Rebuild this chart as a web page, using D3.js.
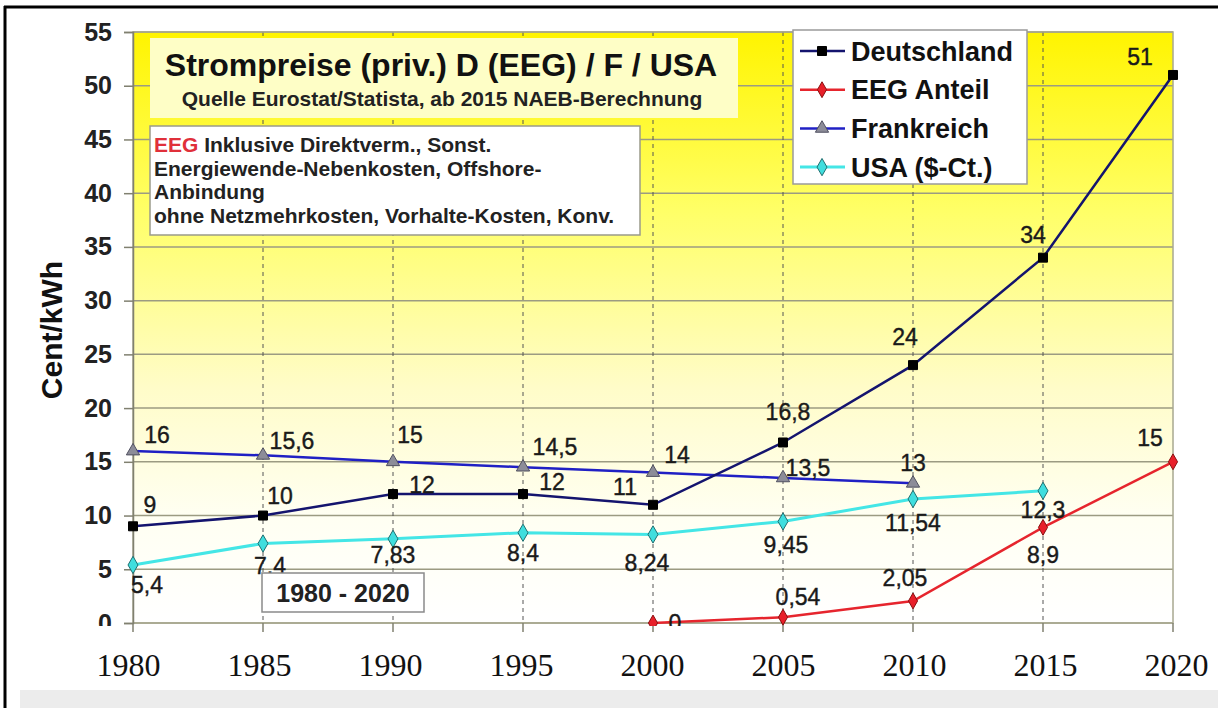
<!DOCTYPE html>
<html><head><meta charset="utf-8">
<script src="https://cdn.jsdelivr.net/npm/d3@7"></script>
<style>
html,body{margin:0;padding:0;background:#fff;}
svg{display:block;}
</style></head>
<body>
<svg id="chart" width="1218" height="708"></svg>
<script>
// ---- data ----
const years = [1980, 1985, 1990, 1995, 2000, 2005, 2010, 2015, 2020];
const yTicks = [0, 5, 10, 15, 20, 25, 30, 35, 40, 45, 50, 55];
const deutschlandYears = [1980, 1985, 1990, 1995, 2000, 2005, 2010, 2015, 2020];
const deutschland = [9, 10, 12, 12, 11, 16.8, 24, 34, 51];
const eegYears = [2000, 2005, 2010, 2015, 2020];
const eegAnteil = [0, 0.54, 2.05, 8.9, 15];
const frankreichYears = [1980, 1985, 1990, 1995, 2000, 2005, 2010];
const frankreich = [16, 15.6, 15, 14.5, 14, 13.5, 13];
const usaYears = [1980, 1985, 1990, 1995, 2000, 2005, 2010, 2015];
const usa = [5.4, 7.4, 7.83, 8.4, 8.24, 9.45, 11.54, 12.3];
const seriesNames = ["Deutschland", "EEG Anteil", "Frankreich", "USA ($-Ct.)"];
const titleText = "Strompreise (priv.) D (EEG) / F / USA";
const subtitleText = "Quelle Eurostat/Statista, ab 2015 NAEB-Berechnung";
const noteLines = [" Inklusive Direktverm., Sonst.", "Energiewende-Nebenkosten, Offshore-", "Anbindung", "ohne Netzmehrkosten, Vorhalte-Kosten, Konv."];
const periodText = "1980 - 2020";
const yTitle = "Cent/kWh";

const fmt = v => String(v).replace(".", ",");

// ---- layout / style ----
const svg = d3.select("#chart");
const W = 1218, H = 708;
const plot = {left: 133, right: 1173, top: 32, bottom: 623};
const x = d3.scaleLinear().domain([1980, 2020]).range([plot.left, plot.right]);
const y = d3.scaleLinear().domain([0, 55]).range([plot.bottom, plot.top]);
const xLab = d3.scaleLinear().domain([1980, 2020]).range([128, 1176]);
const SANS = "'Liberation Sans', Arial, sans-serif";

const styles = {
  "Deutschland": {line: "#14146e", width: 2.5, marker: "square", fill: "#000", stroke: "#000", size: 9},
  "EEG Anteil": {line: "#e6252d", width: 2.5, marker: "diamond", fill: "#e8202a", stroke: "#8a1010", size: 11},
  "Frankreich": {line: "#2020c4", width: 2.5, marker: "triangle", fill: "#8c8c98", stroke: "#505060", size: 13},
  "USA ($-Ct.)": {line: "#44e6e6", width: 3, marker: "diamond", fill: "#3fdede", stroke: "#1f6f70", size: 12}
};
// label offsets (dx, dy) relative to point
const labelOffsets = {
  "Deutschland": [[17,-22],[17,-20],[29,-9],[29,-12],[-28,-18],[5,-31],[-8,-28],[-10,-23],[-33,-18]],
  "EEG Anteil": [[22,0],[15,-20],[-8,-23],[0,27],[-23,-24]],
  "Frankreich": [[24,-16],[29,-15],[17,-27],[32,-20],[24,-18],[25,-10],[0,-21]],
  "USA ($-Ct.)": [[14,20],[7,22],[0,16],[0,20],[-6,28],[3,23],[0,24],[0,19]]
};

// frame
svg.append("rect").attr("x",0).attr("y",0).attr("width",W).attr("height",H).attr("fill","#fff");
svg.append("rect").attr("x",20).attr("y",690).attr("width",W-20).attr("height",18).attr("fill","#ececec");
svg.append("line").attr("x1",4).attr("x2",W).attr("y1",7).attr("y2",7).attr("stroke","#000").attr("stroke-width",3);
svg.append("line").attr("x1",5).attr("x2",5).attr("y1",6).attr("y2",H).attr("stroke","#000").attr("stroke-width",3);

const defs = svg.append("defs");
const grad = defs.append("linearGradient").attr("id","bg").attr("x1",0).attr("y1",0).attr("x2",0).attr("y2",1);
[["0%","#fff400"],["30%","#ffff66"],["60%","#fffcc8"],["82%","#fffff2"],["100%","#ffffff"]]
  .forEach(([o,c]) => grad.append("stop").attr("offset",o).attr("stop-color",c));
defs.append("clipPath").attr("id","clipPlot").append("rect").attr("x",0).attr("y",0).attr("width",W).attr("height",plot.bottom+3);

// plot background
svg.append("rect").attr("x",plot.left).attr("y",plot.top).attr("width",plot.right-plot.left)
  .attr("height",plot.bottom-plot.top).attr("fill","url(#bg)");

// horizontal gridlines
svg.append("g").selectAll("line").data(yTicks).join("line")
  .attr("x1",plot.left).attr("x2",plot.right).attr("y1",d=>y(d)).attr("y2",d=>y(d))
  .attr("stroke","#9c9b82").attr("stroke-width",1.5);
// vertical dashed gridlines
svg.append("g").selectAll("line").data(years.slice(1,-1)).join("line")
  .attr("x1",d=>x(d)).attr("x2",d=>x(d)).attr("y1",plot.top).attr("y2",plot.bottom)
  .attr("stroke","#555").attr("stroke-width",1).attr("stroke-dasharray","4,4");
// plot border
svg.append("rect").attr("x",plot.left).attr("y",plot.top).attr("width",plot.right-plot.left)
  .attr("height",plot.bottom-plot.top).attr("fill","none").attr("stroke","#a8a890").attr("stroke-width",1.5);

// y axis (wrapped so the clip uses page coordinates)
const yWrap = svg.append("g").attr("clip-path","url(#clipPlot)");
const yAxis = yWrap.append("g").attr("transform",`translate(${plot.left},0)`)
  .call(d3.axisLeft(y).tickValues(yTicks).tickSize(9).tickPadding(12).tickFormat(d=>d));
yAxis.select(".domain").attr("stroke","#808070").attr("stroke-width",1.5);
yAxis.selectAll(".tick line").attr("stroke","#808070").attr("stroke-width",1.5);
yAxis.selectAll("text").attr("font-family",SANS).attr("font-weight","bold").attr("font-size",25).attr("fill","#222");

// x axis ticks (bottom, below plot)
svg.append("g").selectAll("line").data(years).join("line")
  .attr("x1",d=>x(d)).attr("x2",d=>x(d)).attr("y1",plot.bottom).attr("y2",plot.bottom+9)
  .attr("stroke","#808070").attr("stroke-width",1.5);
// x labels (serif)
const xAxis = svg.append("g").attr("transform","translate(0,652)")
  .call(d3.axisBottom(xLab).tickValues(years).tickSize(0).tickPadding(0).tickFormat(d=>d));
xAxis.select(".domain").remove();
xAxis.selectAll("text").attr("font-family","'Liberation Serif', 'Times New Roman', serif")
  .attr("font-size",32).attr("fill","#111").attr("dy","0.75em");

// y title
svg.append("text").attr("transform","translate(62,330) rotate(-90)").attr("text-anchor","middle")
  .attr("font-family",SANS).attr("font-weight","bold").attr("font-size",30).attr("fill","#111").text(yTitle);

// title box
svg.append("rect").attr("x",150).attr("y",38).attr("width",588).attr("height",80).attr("fill","#fefec6");
svg.append("text").attr("x",441).attr("y",76).attr("text-anchor","middle").attr("font-family",SANS)
  .attr("font-weight","bold").attr("font-size",32).attr("fill","#111").text(titleText);
svg.append("text").attr("x",442).attr("y",106).attr("text-anchor","middle").attr("font-family",SANS)
  .attr("font-weight","bold").attr("font-size",21).attr("fill","#222").text(subtitleText);

// note box
svg.append("rect").attr("x",150).attr("y",126).attr("width",490).attr("height",109)
  .attr("fill","#fff").attr("stroke","#9a9a8a").attr("stroke-width",1.5);
const note = svg.append("g").attr("font-family",SANS).attr("font-weight","bold").attr("font-size",21).attr("fill","#222");
noteLines.forEach((l,i) => {
  const t = note.append("text").attr("x",154).attr("y",152 + i*23.5);
  if (i === 0) t.append("tspan").attr("fill","#e0303a").text("EEG");
  t.append("tspan").text(l);
});

// series
const series = [
  {name: seriesNames[0], xs: deutschlandYears, ys: deutschland},
  {name: seriesNames[1], xs: eegYears, ys: eegAnteil},
  {name: seriesNames[2], xs: frankreichYears, ys: frankreich},
  {name: seriesNames[3], xs: usaYears, ys: usa}
];
const symbolFor = m => m === "square" ? d3.symbolSquare : m === "triangle" ? d3.symbolTriangle : d3.symbolDiamond;
function markerPath(st) {
  const s = st.size;
  let area;
  if (st.marker === "square") area = s*s;
  else if (st.marker === "triangle") area = s*s*0.45;
  else area = s*s*0.6;
  return d3.symbol().type(symbolFor(st.marker)).size(area)();
}
const line = d3.line().x(d=>x(d[0])).y(d=>y(d[1]));
const gS = svg.append("g").attr("clip-path","url(#clipPlot)");
[3,2,1,0].forEach(i => {
  const s = series[i], st = styles[s.name];
  const pts = s.xs.map((xx,j)=>[xx, s.ys[j]]);
  gS.append("path").datum(pts).attr("d",line).attr("fill","none").attr("stroke",st.line).attr("stroke-width",st.width);
});
[3,2,1,0].forEach(i => {
  const s = series[i], st = styles[s.name];
  const pts = s.xs.map((xx,j)=>[xx, s.ys[j]]);
  gS.append("g").selectAll("path").data(pts).join("path")
    .attr("d",markerPath(st)).attr("transform",d=>`translate(${x(d[0])},${y(d[1])})`)
    .attr("fill",st.fill).attr("stroke",st.stroke).attr("stroke-width",1);
});
// labels
const gL = svg.append("g").attr("clip-path","url(#clipPlot)").attr("font-family",SANS).attr("font-size",23).attr("fill","#1a1a1a")
  .attr("text-anchor","middle").attr("stroke","#1a1a1a").attr("stroke-width",0.4);
series.forEach(s => {
  const offs = labelOffsets[s.name];
  gL.append("g").selectAll("text").data(s.xs.map((xx,j)=>[xx,s.ys[j],j])).join("text")
    .attr("x",d=>x(d[0])+offs[d[2]][0]).attr("y",d=>y(d[1])+offs[d[2]][1]).attr("dy","0.36em")
    .text(d=>fmt(d[1]));
});

// period box
svg.append("rect").attr("x",262).attr("y",573).attr("width",162).attr("height",39)
  .attr("fill","#fff").attr("stroke","#8a8a8a").attr("stroke-width",1.5);
svg.append("text").attr("x",343).attr("y",593).attr("dy","0.36em").attr("text-anchor","middle")
  .attr("font-family",SANS).attr("font-weight","bold").attr("font-size",25).attr("fill","#222").text(periodText);

// legend
const lg = svg.append("g");
lg.append("rect").attr("x",793).attr("y",30).attr("width",234).attr("height",154)
  .attr("fill","#fff").attr("stroke","#9a9a9a").attr("stroke-width",1.5);
seriesNames.forEach((n,i) => {
  const st = styles[n], cy = 51 + i*38.7;
  lg.append("line").attr("x1",800).attr("x2",845).attr("y1",cy).attr("y2",cy).attr("stroke",st.line).attr("stroke-width",st.width);
  lg.append("path").attr("d",markerPath(st)).attr("transform",`translate(822,${cy})`)
    .attr("fill",st.fill).attr("stroke",st.stroke).attr("stroke-width",1);
  lg.append("text").attr("x",851).attr("y",cy).attr("dy","0.36em").attr("font-family",SANS)
    .attr("font-weight","bold").attr("font-size",27).attr("fill","#111").text(n);
});
</script>
</body></html>
